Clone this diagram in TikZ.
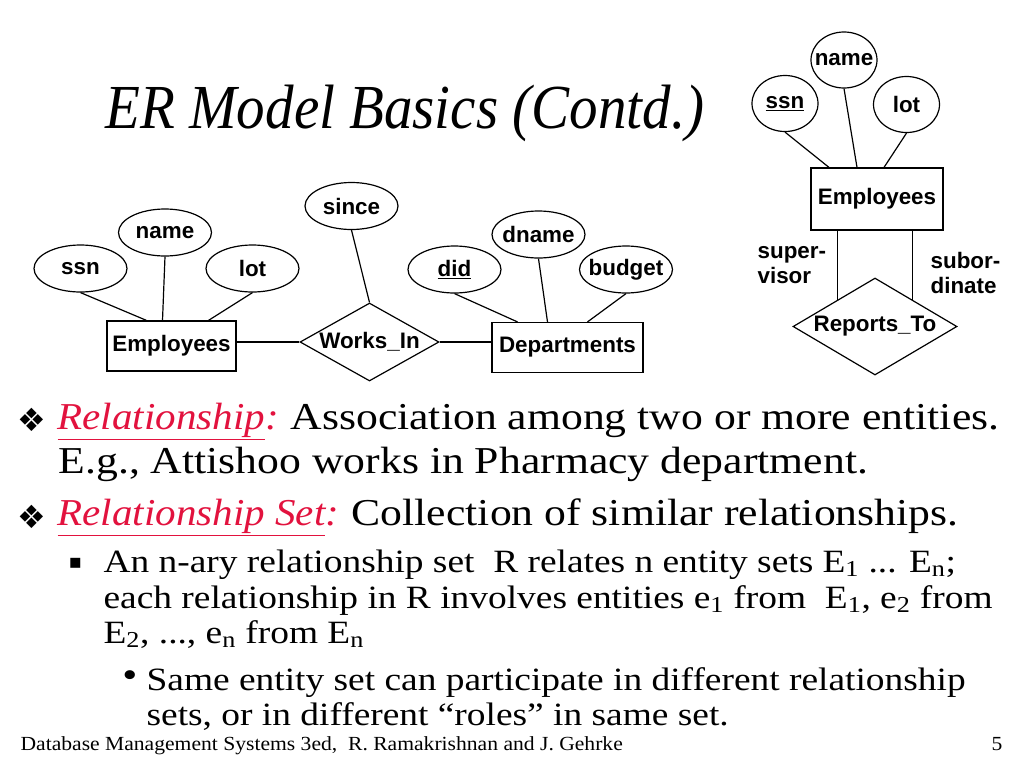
\documentclass[tikz,border=0pt]{standalone}
\usepackage{fontspec}
\setsansfont{Liberation Sans}
\newfontfamily\bodyfont{Liberation Serif}[FakeStretch=1.15]
\newfontfamily\termfont{Liberation Serif}[FakeStretch=1.08]
\newfontfamily\titlefont{Liberation Serif}[FakeStretch=0.91]
\newfontfamily\footfont{Liberation Serif}[FakeStretch=1.08]
\newfontfamily\symfont{DejaVu Sans}
\usetikzlibrary{shapes.geometric,calc}
\definecolor{slidered}{RGB}{226,18,62}

\begin{document}
\begin{tikzpicture}[x=0.75pt, y=-0.75pt, line width=0.9pt,
    every node/.style={font=\sffamily\bfseries\fontsize{16.8}{18.8}\selectfont},
    attr/.style={draw, ellipse, inner sep=0pt, minimum width=69.75pt, minimum height=35.25pt},
    attrsmall/.style={attr, minimum width=49.5pt, minimum height=42pt},
    entity/.style={draw, rectangle, inner sep=0pt, minimum height=37.5pt},
    rel/.style={draw, diamond, inner sep=0pt},
    bodyone/.style={anchor=base west, inner sep=0pt, font=\bodyfont\fontsize{28.5}{34}\selectfont},
    termone/.style={anchor=base west, inner sep=0pt, text=slidered, font=\termfont\itshape\fontsize{28.5}{34}\selectfont},
    bodytwo/.style={anchor=base west, inner sep=0pt, font=\bodyfont\fontsize{24.4}{30}\selectfont},
    bullet/.style={inner sep=0pt, font=\symfont\fontsize{24}{26}\selectfont}]
    \useasboundingbox (0,0) rectangle (1024,768);

    \node[anchor=base west, inner sep=0pt, font=\titlefont\itshape\fontsize{47}{50}\selectfont] (title) at (105,128) {ER Model Basics (Contd.)};

    % Works_In
    \node[entity, minimum width=96.75pt] (empL) at (171.5,346) {Employees};
    \node[rel, minimum width=104.25pt, minimum height=58.5pt] (worksIn) at (369.5,342) {\makebox[0pt]{Works\_In}};
    \node[entity, minimum width=113.25pt] (dept) at (567.5,347.5) {Departments};
    \foreach \nm/\txt/\px/\py in {ssnL/ssn/80.5/268.5, nameL/name/165/232.5, lotL/lot/252.5/268.5,
        since/since/351.5/206, did/\underline{did}/454.5/269.5, dname/dname/538.5/234.5, budget/budget/626/269.5} {
        \node[attr] (\nm) at (\px,\py) {\makebox[0pt]{\txt}};
    }
    \draw (ssnL.south) -- ($(empL.north)+(-25,0)$);
    \draw (nameL.south) -- ($(empL.north)+(-9,0)$);
    \draw (lotL.south) -- ($(empL.north)+(37,0)$);
    \draw (worksIn.west -| empL.east) -- (worksIn.west);
    \draw (worksIn.east) -- (worksIn.east -| dept.west);
    \draw (since.south) -- (worksIn.north);
    \draw (did.south) -- ($(dept.north)+(-50,0)$);
    \draw (dname.south) -- ($(dept.north)+(-20,0)$);
    \draw (budget.south) -- ($(dept.north)+(20,0)$);

    % Reports_To
    \node[entity, minimum width=99pt, minimum height=46.5pt] (empR) at (877,199) {Employees};
    \node[rel, minimum width=123pt, minimum height=72.75pt] (reports) at (875,326.5) {\makebox[0pt]{Reports\_To}};
    \foreach \nm/\txt/\px/\py in {ssnR/\underline{ssn}/785/103.5, nameR/name/844/60, lotR/lot/906.5/104.5} {
        \node[attrsmall] (\nm) at (\px,\py) {\makebox[0pt]{\txt}};
    }
    \draw (ssnR.south) -- ($(empR.north)+(-48,0)$);
    \draw (nameR.south) -- ($(empR.north)+(-20,0)$);
    \draw (lotR.south) -- ($(empR.north)+(7,0)$);
    \coordinate (supEnd) at ($(reports.north)!0.45!(reports.west)$);
    \coordinate (subEnd) at ($(reports.north)!0.45!(reports.east)$);
    \draw (supEnd |- empR.south) -- (supEnd);
    \draw (subEnd |- empR.south) -- (subEnd);
    \node[anchor=west, align=left, inner sep=0pt] (supLbl) at (757,265) {super-\\visor};
    \node[anchor=west, align=left, inner sep=0pt] (subLbl) at (930,273) {subor-\\dinate};

    % text
    \node[bullet] (b1) at (32,420) {❖};
    \node[termone] (term1) at (57,429) {\underline{Relationship}:};
    \node[bodyone] (def1) at (290,429) {Association among two or more entities.};
    \node[bodyone] (eg) at (58,473) {E.g., Attishoo works in Pharmacy department.};
    \node[bullet] (b2) at (32,517) {❖};
    \node[termone] (term2) at (57,525) {\underline{Relationship Set}:};
    \node[bodyone] (def2) at (351,525) {Collection of similar relationships.};
    \node[bullet, font=\symfont\fontsize{15}{16}\selectfont] (b3) at (75.5,563) {▪};
    \node[bodytwo] (nary1) at (103,572) {An n-ary relationship set\ \ R relates n entity sets E\textsubscript{1} ... E\textsubscript{n};};
    \node[bodytwo] (nary2) at (103,608) {each relationship in R involves entities e\textsubscript{1} from\ \ E\textsubscript{1}, e\textsubscript{2} from};
    \node[bodytwo] (nary3) at (103,643) {E\textsubscript{2}, ..., e\textsubscript{n} from E\textsubscript{n}};
    \node[inner sep=0pt, font=\bodyfont\fontsize{28}{31}\selectfont] (b4) at (130,679) {•};
    \node[bodytwo] (same1) at (146,690) {Same entity set can participate in different relationship};
    \node[bodytwo] (same2) at (146,725) {sets, or in different “roles” in same set.};

    \node[anchor=base west, inner sep=0pt, font=\footfont\fontsize{15}{17}\selectfont] (foot) at (20,750) {Database Management Systems 3ed,\ \ R. Ramakrishnan and J. Gehrke};
    \node[anchor=base east, inner sep=0pt, font=\footfont\fontsize{15}{17}\selectfont] (page) at (1003,750) {5};
\end{tikzpicture}
\end{document}
